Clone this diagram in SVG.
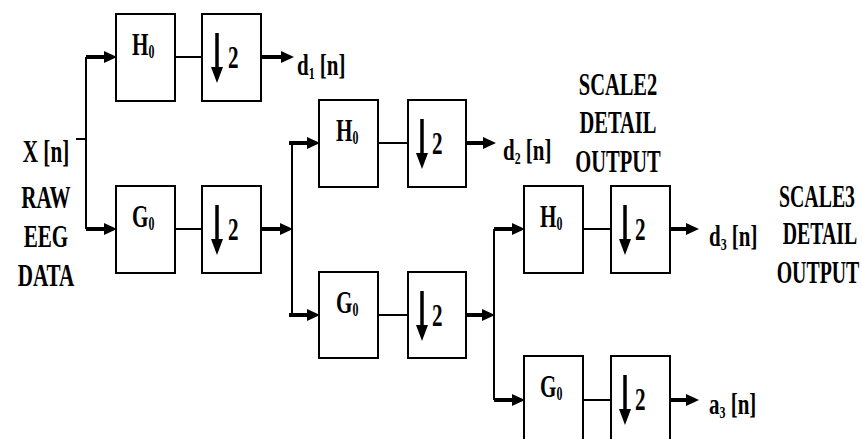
<svg xmlns="http://www.w3.org/2000/svg" width="862" height="439" viewBox="0 0 862 439">
<style>
text{font-family:"Liberation Serif","Times New Roman",serif;font-weight:bold;fill:#000}
.box{fill:#fff;stroke:#000;stroke-width:2}
.thin{stroke:#000;stroke-width:2;fill:none}
.arr{stroke:#000;stroke-width:4;fill:none;marker-end:url(#ah)}
.big{font-size:32px}
.lbl{font-size:30px}
</style>
<defs>
<marker id="ah" markerUnits="userSpaceOnUse" markerWidth="14" markerHeight="14" refX="6" refY="6" orient="auto">
<path d="M0,0 L13,6 L0,12 z" fill="#000"/>
</marker>
<g id="down"><path d="M0,0 V38" stroke="#000" stroke-width="3.5"/><path d="M-6,34 L6,34 L0,50 z" fill="#000"/></g>
</defs>
<rect width="862" height="439" fill="#fff"/>
<g id="connectors">
<path class="thin" d="M76,139 H86 M86,57 V229"/>
<path class="arr" d="M86,57 H110"/>
<path class="arr" d="M86,229 H110"/>
<path class="thin" d="M175,57 H202 M175,229 H202"/>
<path class="arr" d="M261,57 H287"/>
<path class="arr" d="M261,229 H286"/>
<path class="thin" d="M292,143 V315"/>
<path class="arr" d="M289,143 H313"/>
<path class="arr" d="M289,315 H313"/>
<path class="thin" d="M378,143 H408 M378,315 H408"/>
<path class="arr" d="M466,143 H489"/>
<path class="arr" d="M466,315 H488"/>
<path class="thin" d="M494,229 V400"/>
<path class="arr" d="M494,229 H518"/>
<path class="arr" d="M494,400 H518"/>
<path class="thin" d="M583,229 H611 M583,400 H611"/>
<path class="arr" d="M670,229 H692"/>
<path class="arr" d="M670,400 H692"/>
</g>
<g id="input-label">
<text class="big" text-anchor="middle" transform="translate(46,162) scale(0.66,1)">X [n]</text>
<text class="big" text-anchor="middle" transform="translate(46,208) scale(0.66,1)">RAW</text>
<text class="big" text-anchor="middle" transform="translate(46,247) scale(0.66,1)">EEG</text>
<text class="big" text-anchor="middle" transform="translate(46,286) scale(0.66,1)">DATA</text>
</g>
<g id="h1"><rect class="box" x="116" y="14" width="59" height="87"/><text class="big" transform="translate(132,55) scale(0.66,1)">H<tspan font-size="18" dy="3">0</tspan></text></g>
<g id="dh1"><rect class="box" x="202" y="14" width="59" height="87"/><use href="#down" x="217" y="33"/><text class="big" transform="translate(228,68) scale(0.66,1)">2</text></g>
<g id="g1"><rect class="box" x="116" y="186" width="59" height="87"/><text class="big" transform="translate(132,227) scale(0.66,1)">G<tspan font-size="18" dy="3">0</tspan></text></g>
<g id="dg1"><rect class="box" x="202" y="186" width="59" height="87"/><use href="#down" x="217" y="205"/><text class="big" transform="translate(228,240) scale(0.66,1)">2</text></g>
<g id="h2"><rect class="box" x="319" y="100" width="59" height="87"/><text class="big" transform="translate(336,141) scale(0.66,1)">H<tspan font-size="18" dy="3">0</tspan></text></g>
<g id="dh2"><rect class="box" x="408" y="100" width="58" height="87"/><use href="#down" x="422" y="119"/><text class="big" transform="translate(432,154) scale(0.66,1)">2</text></g>
<g id="g2"><rect class="box" x="319" y="272" width="59" height="86"/><text class="big" transform="translate(336,313) scale(0.66,1)">G<tspan font-size="18" dy="3">0</tspan></text></g>
<g id="dg2"><rect class="box" x="408" y="272" width="58" height="86"/><use href="#down" x="422" y="291"/><text class="big" transform="translate(432,326) scale(0.66,1)">2</text></g>
<g id="h3"><rect class="box" x="524" y="186" width="59" height="87"/><text class="big" transform="translate(540,227) scale(0.66,1)">H<tspan font-size="18" dy="3">0</tspan></text></g>
<g id="dh3"><rect class="box" x="611" y="186" width="59" height="87"/><use href="#down" x="625" y="205"/><text class="big" transform="translate(635,240) scale(0.66,1)">2</text></g>
<g id="g3"><rect class="box" x="524" y="356" width="59" height="90"/><text class="big" transform="translate(540,397) scale(0.66,1)">G<tspan font-size="18" dy="3">0</tspan></text></g>
<g id="dg3"><rect class="box" x="611" y="356" width="59" height="90"/><use href="#down" x="625" y="375"/><text class="big" transform="translate(635,410) scale(0.66,1)">2</text></g>
<g id="out-d1"><text class="lbl" transform="translate(297,75) scale(0.7,1)">d<tspan font-size="17" dy="4">1</tspan><tspan dy="-4"> [n]</tspan></text></g>
<g id="out-d2"><text class="lbl" transform="translate(503,160) scale(0.7,1)">d<tspan font-size="17" dy="4">2</tspan><tspan dy="-4"> [n]</tspan></text></g>
<g id="out-d3"><text class="lbl" transform="translate(709,246) scale(0.7,1)">d<tspan font-size="17" dy="4">3</tspan><tspan dy="-4"> [n]</tspan></text></g>
<g id="out-a3"><text class="lbl" transform="translate(709,414) scale(0.7,1)">a<tspan font-size="17" dy="4">3</tspan><tspan dy="-4"> [n]</tspan></text></g>
<g id="scale2-label">
<text class="big" text-anchor="middle" transform="translate(618,95) scale(0.64,1)">SCALE2</text>
<text class="big" text-anchor="middle" transform="translate(618,133) scale(0.64,1)">DETAIL</text>
<text class="big" text-anchor="middle" transform="translate(618,172) scale(0.64,1)">OUTPUT</text>
</g>
<g id="scale3-label">
<text class="big" text-anchor="middle" transform="translate(817,207) scale(0.62,1)">SCALE3</text>
<text class="big" text-anchor="middle" transform="translate(820,244) scale(0.62,1)">DETAIL</text>
<text class="big" text-anchor="middle" transform="translate(818,283) scale(0.62,1)">OUTPUT</text>
</g>
</svg>
